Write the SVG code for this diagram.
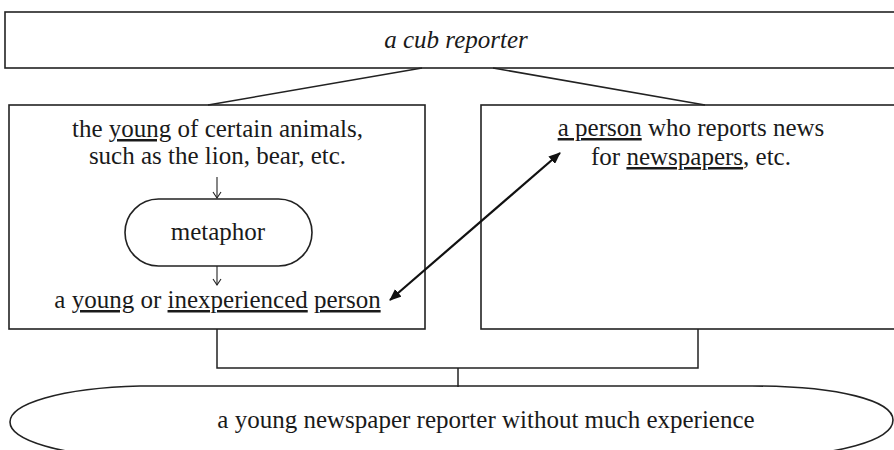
<svg xmlns="http://www.w3.org/2000/svg" width="894" height="450" viewBox="0 0 894 450">
<defs>
<style>
.box{fill:#fff;stroke:#222;stroke-width:1.6}
.ln{fill:none;stroke:#222;stroke-width:1.5}
.t{font-family:"Liberation Serif","Times New Roman","DejaVu Serif",serif;font-size:25px;fill:#1a1a1a;text-anchor:middle}
.u{text-decoration:underline}
.thin{fill:none;stroke:#222;stroke-width:1.1}
</style>
<marker id="big" viewBox="0 0 12 10" refX="11" refY="5" markerWidth="12" markerHeight="10" markerUnits="userSpaceOnUse" orient="auto-start-reverse">
<path d="M0,0 L12,5 L0,10 z" fill="#111"/>
</marker>
<marker id="vee" viewBox="0 0 10 10" refX="5" refY="9.5" markerWidth="10" markerHeight="10" markerUnits="userSpaceOnUse" orient="0">
<path d="M1,3.5 L5,9.5 L9,3.5" fill="none" stroke="#222" stroke-width="1.1"/>
</marker>
</defs>
<rect width="894" height="450" fill="#fff"/>
<g id="top">
<rect class="box" x="5" y="12" width="900" height="56"/>
<text class="t" x="456" y="48" font-style="italic" font-family="Liberation Serif, serif">a cub reporter</text>
</g>
<g id="left">
<rect class="box" x="9" y="105" width="416" height="224"/>
<text class="t" x="217.5" y="137" font-family="Liberation Serif, serif">the <tspan class="u">young</tspan> of certain animals,</text>
<text class="t" x="217.5" y="164" font-family="Liberation Serif, serif">such as the lion, bear, etc.</text>
<text class="t" x="217.5" y="308" font-family="Liberation Serif, serif">a <tspan class="u">young</tspan> or <tspan class="u">inexperienced</tspan> <tspan class="u">person</tspan></text>
</g>
<g id="metaphor">
<rect class="box" x="125" y="199" width="187" height="67" rx="33.5" ry="33.5"/>
<text class="t" x="218" y="240" font-family="Liberation Serif, serif">metaphor</text>
</g>
<g id="right">
<rect class="box" x="481" y="105" width="420" height="224"/>
<text class="t" x="691" y="136" font-family="Liberation Serif, serif"><tspan class="u">a person</tspan> who reports news</text>
<text class="t" x="691" y="165" font-family="Liberation Serif, serif">for <tspan class="u">newspapers</tspan>, etc.</text>
</g>
<g id="result">
<path class="box" d="M140,386 H752 C840,386 893,401 893,420 C893,440 840,456 752,458 H140 C60,456 10,440 10,422 C10,404 60,388 140,386 Z"/>
<text class="t" x="486" y="428" font-family="Liberation Serif, serif">a young newspaper reporter without much experience</text>
</g>
<g id="connectors">
<line class="ln" x1="422" y1="68" x2="208" y2="105"/>
<line class="ln" x1="493" y1="68" x2="705" y2="105"/>
<polyline class="ln" points="217,329 217,368 698,368 698,329"/>
<line class="ln" x1="458" y1="368" x2="458" y2="387"/>
<line class="thin" x1="217" y1="177" x2="217" y2="198" marker-end="url(#vee)"/>
<line class="thin" x1="217" y1="266" x2="217" y2="285" marker-end="url(#vee)"/>
<line x1="390" y1="300" x2="560" y2="153" stroke="#111" stroke-width="2.2" marker-start="url(#big)" marker-end="url(#big)"/>
</g>
</svg>
